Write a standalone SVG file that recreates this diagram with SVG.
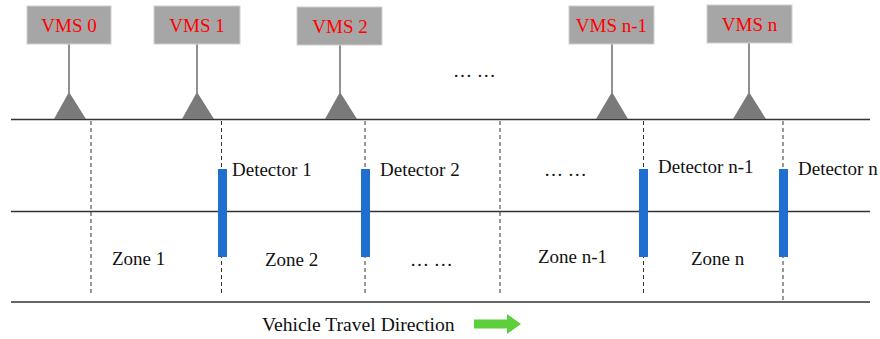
<svg xmlns="http://www.w3.org/2000/svg" width="880" height="339" viewBox="0 0 880 339">
<style>
.vms rect{fill:#a6a6a6;stroke:#d0d0d0;stroke-width:1}
.vms text{fill:#ff0000;font-family:"Liberation Serif",serif;font-size:19px;text-anchor:middle}
.pole{stroke:#555;stroke-width:1.3}
.tri{fill:#7a7a7a}
.road{stroke:#333;stroke-width:1.5}
.dash{stroke:#333;stroke-width:1;stroke-dasharray:4,3}
.det{fill:#1f6fd0}
.lbl{font-family:"Liberation Serif",serif;font-size:19px;fill:#111}
</style>
<g id="connectors">
<line class="road" x1="11" y1="119.5" x2="870" y2="119.5"/>
<line class="road" x1="11" y1="211.5" x2="870" y2="211.5"/>
<line class="road" x1="11" y1="302" x2="870" y2="302"/>
<line class="dash" x1="91" y1="121" x2="91" y2="296"/>
<line class="dash" x1="221.5" y1="121" x2="221.5" y2="296"/>
<line class="dash" x1="365" y1="121" x2="365" y2="296"/>
<line class="dash" x1="500" y1="121" x2="500" y2="296"/>
<line class="dash" x1="643.5" y1="121" x2="643.5" y2="296"/>
<line class="dash" x1="783" y1="121" x2="783" y2="300"/>
<line class="pole" x1="69" y1="44" x2="69" y2="93"/>
<line class="pole" x1="197" y1="44" x2="197" y2="93"/>
<line class="pole" x1="340" y1="45" x2="340" y2="93"/>
<line class="pole" x1="612" y1="44" x2="612" y2="93"/>
<line class="pole" x1="749" y1="43" x2="749" y2="93"/>
</g>
<g id="vms0" class="vms"><rect x="27" y="6" width="84" height="38"/><text x="69" y="32">VMS 0</text><polygon class="tri" points="54,119 69,92 86,119"/></g>
<g id="vms1" class="vms"><rect x="154" y="6" width="86" height="38"/><text x="197" y="32">VMS 1</text><polygon class="tri" points="182,119 197,92 214,119"/></g>
<g id="vms2" class="vms"><rect x="297" y="7" width="85" height="38"/><text x="340" y="33">VMS 2</text><polygon class="tri" points="325,119 340,92 357,119"/></g>
<g id="vmsn1" class="vms"><rect x="569" y="6" width="85" height="38"/><text x="611.5" y="32">VMS n-1</text><polygon class="tri" points="596,119 612,92 628,119"/></g>
<g id="vmsn" class="vms"><rect x="707" y="5" width="85" height="38"/><text x="749.5" y="31">VMS n</text><polygon class="tri" points="733,119 749,92 766,119"/></g>
<g id="dots-top"><text class="lbl" x="453" y="77">… …</text></g>
<g id="det1"><rect class="det" x="218" y="169" width="9" height="88"/><text class="lbl" x="232" y="176">Detector 1</text></g>
<g id="det2"><rect class="det" x="361" y="169" width="9" height="88"/><text class="lbl" x="380" y="176">Detector 2</text></g>
<g id="dots-mid"><text class="lbl" x="544" y="176">… …</text></g>
<g id="detn1"><rect class="det" x="639" y="169" width="9" height="88"/><text class="lbl" x="658" y="173">Detector n-1</text></g>
<g id="detn"><rect class="det" x="779" y="169" width="9" height="88"/><text class="lbl" x="798" y="175">Detector n</text></g>
<g id="zone1"><text class="lbl" x="112" y="265">Zone 1</text></g>
<g id="zone2"><text class="lbl" x="265" y="266">Zone 2</text></g>
<g id="dots-low"><text class="lbl" x="410" y="266">… …</text></g>
<g id="zonen1"><text class="lbl" x="538" y="263">Zone n-1</text></g>
<g id="zonen"><text class="lbl" x="691" y="265">Zone n</text></g>
<g id="direction"><text class="lbl" x="262" y="331" style="font-size:19.6px">Vehicle Travel Direction</text><polygon fill="#5ccf3a" points="474,319.5 507,319.5 507,314 521,324 507,334 507,328.5 474,328.5"/></g>
</svg>
